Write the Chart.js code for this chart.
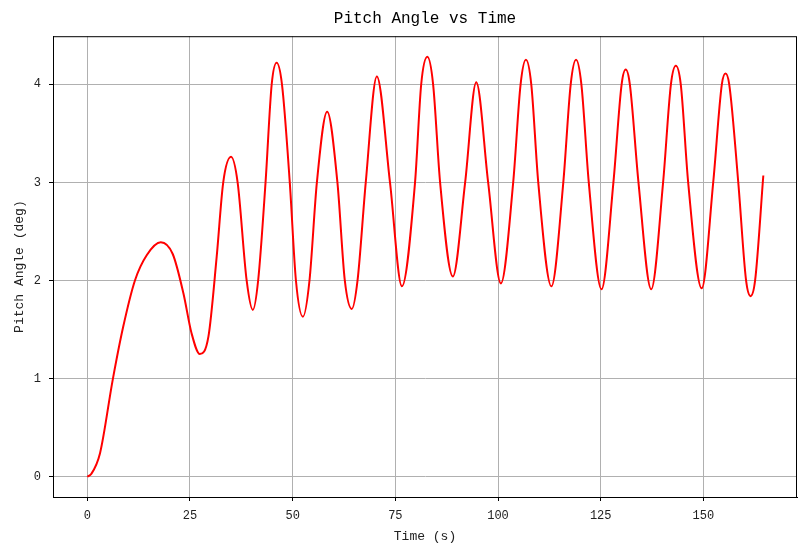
<!DOCTYPE html>
<html>
<head>
<meta charset="utf-8">
<title>Pitch Angle vs Time</title>
<script src="https://cdn.jsdelivr.net/npm/chart.js@4/dist/chart.umd.min.js"></script>
<style>
    body { margin: 0; background: #fff; }
    #wrap { width: 809px; height: 555px; }
</style>
</head>
<body>
<div id="wrap"><canvas id="pitchChart"></canvas></div>
<script>
// Dane (czas w s, kąt w stopniach)
const timeValues = [
    0, 1, 3.1, 6.2, 8.7, 11.6, 14.5, 17.9, 20.8, 23.4, 25.4, 27.4, 29.5, 31.5, 33.1,
    35.0, 36.6, 38.8, 40.3, 41.6, 43.4, 44.9, 46.1, 47.4, 49.3, 50.8, 52.5, 54.1, 55.9,
    58.4, 60.9, 62.7, 64.4, 65.8, 67.8, 70.5, 73.7, 76.6, 79.8, 81.3, 82.8,
    84.2, 85.9, 89.0, 92.0, 94.7, 97.6, 100.7, 103.7, 105.5, 106.8, 108.1, 109.8, 113.0,
    115.9, 117.7, 119.0, 120.3, 122.1, 125.2, 128.1, 130.1, 131.1, 132.1, 134.2, 137.3,
    140.2, 142.1, 143.3, 144.5, 146.3, 149.6, 152.4, 154.5, 155.4, 156.3, 158.5, 160.4,
    161.5, 162.6, 164.6
];
const pitchValues = [
    0, 0.03, 0.24, 0.99, 1.52, 2.0, 2.26, 2.39, 2.27, 1.87, 1.46, 1.25, 1.43, 2.24, 3.0,
    3.26, 3.0, 2.0, 1.70, 2.0, 3.0, 4.0, 4.22, 4.0, 3.0, 2.0, 1.63, 2.0, 3.0,
    3.72, 3.0, 2.0, 1.71, 2.0, 3.0, 4.08, 3.0, 1.94, 3.0, 4.0, 4.28,
    4.0, 3.0, 2.04, 3.0, 4.02, 3.0, 1.97, 3.0, 4.0, 4.25, 4.0, 3.0, 1.94,
    3.0, 4.0, 4.25, 4.0, 3.0, 1.91, 3.0, 4.0, 4.15, 4.0, 3.0, 1.91,
    3.0, 4.0, 4.19, 4.0, 3.0, 1.92, 3.0, 4.0, 4.11, 4.0, 3.0, 2.0,
    1.84, 2.0, 3.07
];
const xTicks = [0, 25, 50, 75, 100, 125, 150];
const yTicks = [0, 1, 2, 3, 4];

const fontFamily = '"Liberation Mono", "DejaVu Sans Mono", monospace';

// Ramka wokół obszaru wykresu
const frameBox = {
    id: 'frameBox',
    afterDraw(chart) {
        const { ctx, chartArea: a } = chart;
        ctx.save();
        ctx.strokeStyle = '#000';
        ctx.lineWidth = 1;
        ctx.strokeRect(a.left + 0.5, a.top + 0.5, a.right - a.left - 1, a.bottom - a.top);
        ctx.restore();
    }
};

const points = timeValues.map((t, i) => ({ x: t, y: pitchValues[i] }));

new Chart(document.getElementById('pitchChart'), {
    type: 'line',
    data: {
        datasets: [{
            label: 'Pitch Angle',
            data: points,
            borderColor: '#ff0000',
            borderWidth: 2,
            pointRadius: 0,
            cubicInterpolationMode: 'monotone',
            fill: false
        }]
    },
    options: {
        responsive: true,
        maintainAspectRatio: false,
        animation: false,
        devicePixelRatio: 1,
        layout: { padding: { left: 0, right: 12, top: 0, bottom: 0 } },
        plugins: {
            legend: { display: false },
            tooltip: { enabled: false },
            title: {
                display: true,
                fullSize: false,
                text: 'Pitch Angle vs Time',
                color: '#000',
                font: { family: fontFamily, size: 16, weight: 'normal' },
                padding: { top: 9, bottom: 8 }
            }
        },
        scales: {
            x: {
                type: 'linear',
                min: -8.35,
                max: 172.8,
                afterFit: s => { s.height = 58; },
                afterBuildTicks: s => { s.ticks = xTicks.map(v => ({ value: v })); },
                ticks: { color: '#222', padding: 8, font: { family: fontFamily, size: 12 } },
                grid: { color: '#b0b0b0', tickColor: '#000', tickLength: 4, lineWidth: 1 },
                border: { color: '#000' },
                title: {
                    display: true,
                    text: 'Time (s)',
                    color: '#222',
                    font: { family: fontFamily, size: 13 },
                    padding: { top: 4, bottom: 11 }
                }
            },
            y: {
                type: 'linear',
                min: -0.207,
                max: 4.49,
                afterFit: s => { s.width = 53; },
                afterBuildTicks: s => { s.ticks = yTicks.map(v => ({ value: v })); },
                ticks: { color: '#222', padding: 8, font: { family: fontFamily, size: 12 } },
                grid: { color: '#b0b0b0', tickColor: '#000', tickLength: 4, lineWidth: 1 },
                border: { color: '#000' },
                title: {
                    display: true,
                    text: 'Pitch Angle (deg)',
                    color: '#222',
                    font: { family: fontFamily, size: 13 },
                    padding: { top: 12, bottom: 4 }
                }
            }
        }
    },
    plugins: [frameBox]
});
</script>
</body>
</html>
